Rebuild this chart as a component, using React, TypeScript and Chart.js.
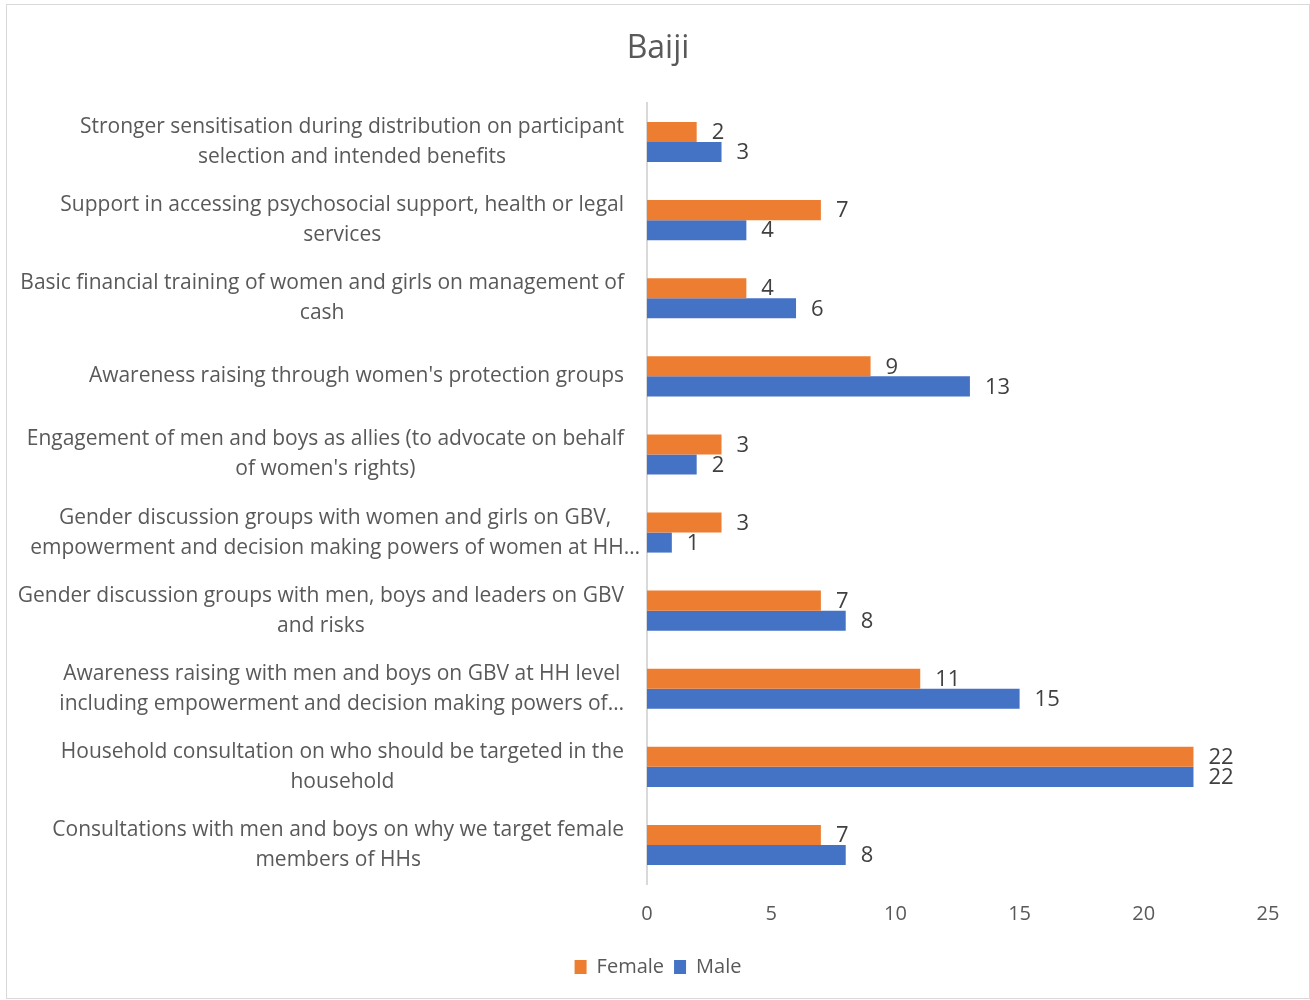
import React, { useEffect, useRef } from "react";
import { Chart, registerables } from "chart.js";

Chart.register(...registerables);

const categories: string[][] = [
  ["Stronger sensitisation during distribution on participant", "selection and intended benefits"],
  ["Support in accessing psychosocial support, health or legal", "services"],
  ["Basic financial training of women and girls on management of", "cash"],
  ["Awareness raising through women's protection groups"],
  ["Engagement of men and boys as allies (to advocate on behalf", "of women's rights)"],
  ["Gender discussion groups with women and girls on GBV,", "empowerment and decision making powers of women at HH…"],
  ["Gender discussion groups with men, boys and leaders on GBV", "and risks"],
  ["Awareness raising with men and boys on GBV at HH level", "including empowerment and decision making powers of…"],
  ["Household consultation on who should be targeted in the", "household"],
  ["Consultations with men and boys on why we target female", "members of HHs"],
];

const femaleValues: number[] = [2, 7, 4, 9, 3, 3, 7, 11, 22, 7];
const maleValues: number[] = [3, 4, 6, 13, 2, 1, 8, 15, 22, 8];

const xTicks: number[] = [0, 5, 10, 15, 20, 25];

const FONT = "'Open Sans', 'Noto Sans', sans-serif";

const dataLabelPlugin = {
  id: "dataLabels",
  afterDatasetsDraw(chart: any) {
    const ctx = chart.ctx;
    ctx.save();
    ctx.font = `22px ${FONT}`;
    ctx.fillStyle = "#404040";
    ctx.textAlign = "left";
    ctx.textBaseline = "middle";
    chart.data.datasets.forEach((ds: any, di: number) => {
      const meta = chart.getDatasetMeta(di);
      meta.data.forEach((bar: any, i: number) => {
        ctx.fillText(String(ds.data[i]), bar.x + 15, bar.y + 1);
      });
    });
    ctx.restore();
  },
};

// Category labels: each block right-aligned, lines centred within the block
const categoryLabelPlugin = {
  id: "categoryLabels",
  afterDraw(chart: any) {
    const ctx = chart.ctx;
    const yScale = chart.scales.y;
    const lineH = 30;
    ctx.save();
    ctx.font = `21px ${FONT}`;
    ctx.fillStyle = "#595959";
    ctx.textAlign = "center";
    ctx.textBaseline = "middle";
    (chart.data.labels as string[][]).forEach((lines, i) => {
      const yc = yScale.getPixelForValue(i);
      const maxW = Math.max(...lines.map((l) => ctx.measureText(l).width));
      const overflow = lines.some((l) => l.endsWith("…")) && maxW > 600;
      const rightEdge = overflow ? 640 : 624;
      const cx = rightEdge - maxW / 2;
      const y0 = yc - ((lines.length - 1) * lineH) / 2;
      lines.forEach((l, k) => ctx.fillText(l, cx, y0 + k * lineH));
    });
    ctx.restore();
  },
};

export default function App() {
  const ref = useRef<HTMLCanvasElement | null>(null);

  useEffect(() => {
    document.body.style.margin = "0";
    if (!ref.current) return;
    const chart = new Chart(ref.current, {
      type: "bar",
      data: {
        labels: categories,
        datasets: [
          {
            label: "Female",
            data: femaleValues,
            backgroundColor: "#ED7D31",
            borderWidth: 0,
            categoryPercentage: 0.513,
            barPercentage: 1,
          },
          {
            label: "Male",
            data: maleValues,
            backgroundColor: "#4472C4",
            borderWidth: 0,
            categoryPercentage: 0.513,
            barPercentage: 1,
          },
        ],
      },
      options: {
        indexAxis: "y",
        animation: false,
        responsive: false,
        maintainAspectRatio: false,
        layout: { padding: { left: 48, right: 42, top: 20, bottom: 13 } },
        plugins: {
          title: {
            display: true,
            text: "Baiji",
            color: "#595959",
            font: { family: FONT, size: 32, weight: "normal" },
            padding: { top: 10, bottom: 34.6 },
          },
          legend: {
            position: "bottom",
            labels: {
              color: "#595959",
              font: { family: FONT, size: 20 },
              boxWidth: 12,
              boxHeight: 14,
              padding: 10,
            },
          },
          tooltip: { enabled: false },
        },
        scales: {
          x: {
            min: 0,
            max: 25,
            afterBuildTicks: (scale: any) => {
              scale.ticks = xTicks.map((v) => ({ value: v }));
            },
            grid: { display: false, drawTicks: false },
            border: { display: false },
            ticks: {
              color: "#595959",
              font: { family: FONT, size: 20 },
              padding: 18,
            },
            afterFit: (scale: any) => {
              scale.height = 63;
            },
          },
          y: {
            grid: { display: false, drawTicks: false },
            border: { display: true, color: "#d9d9d9", width: 2 },
            ticks: { display: false },
            afterFit: (scale: any) => {
              scale.width = 599;
            },
          },
        },
      },
      plugins: [dataLabelPlugin, categoryLabelPlugin],
    } as any);
    return () => chart.destroy();
  }, []);

  return (
    <div style={{ position: "relative", width: 1310, height: 1000, background: "#fff" }}>
      <canvas ref={ref} width={1310} height={1000} style={{ display: "block" }} />
      <div
        style={{
          position: "absolute",
          left: 6,
          top: 4,
          width: 1302,
          height: 993,
          border: "1px solid #d9d9d9",
          pointerEvents: "none",
        }}
      />
    </div>
  );
}
